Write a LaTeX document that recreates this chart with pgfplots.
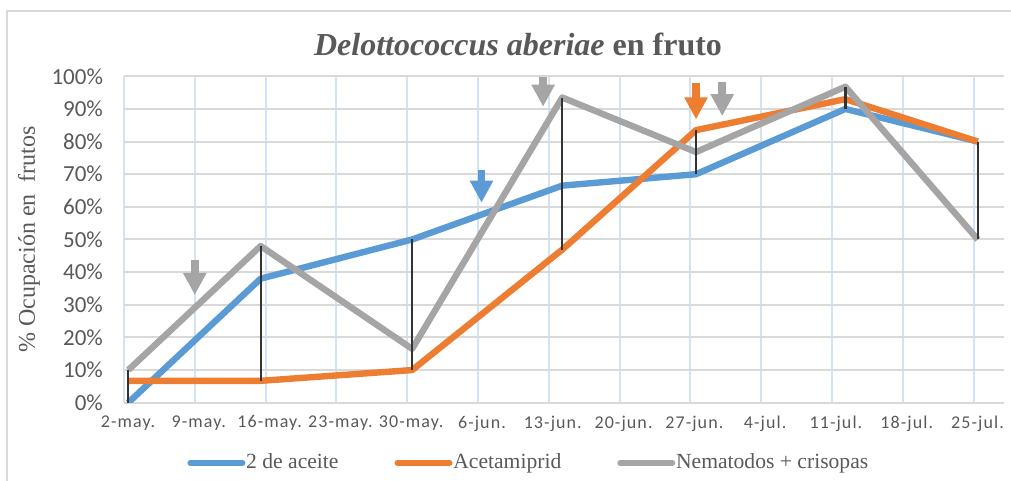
\documentclass[border=0pt]{standalone}
\usepackage{fontspec}
\setmainfont{Liberation Serif}
\newfontfamily\carlito{Carlito}
\newfontfamily\carlitols[LetterSpace=6]{Carlito}
\usepackage{pgfplots}
\pgfplotsset{compat=1.18}
\usetikzlibrary{arrows.meta}
\definecolor{cblue}{HTML}{5B9BD5}
\definecolor{corange}{HTML}{ED7D31}
\definecolor{cgray}{HTML}{A5A5A5}
\definecolor{txt}{HTML}{595959}
\definecolor{gridg}{HTML}{D9D9D9}
\definecolor{gridb}{HTML}{D2E3F3}
\definecolor{drop}{HTML}{333333}
\begin{document}
\begin{tikzpicture}
\useasboundingbox (0,0) rectangle (505.5pt,240.5pt);
\draw[gridg, line width=1pt] (3.5pt,-5pt) -- (3.5pt,235pt) -- (515pt,235pt);
\node[anchor=base, text=txt, font=\fontsize{16}{19}\selectfont\bfseries, inner sep=0pt] at (259pt,212.5pt) {\textit{Delottococcus aberiae} en fruto};
\begin{axis}[
  at={(62pt,39.15pt)}, anchor=south west,
  scale only axis, width=440pt, height=163.2pt,
  xmin=0, xmax=12.43, ymin=0, ymax=100,
  xtick={0,1,2,3,4,5,6,7,8,9,10,11,12},
  xticklabels={2-may.,9-may.,16-may.,23-may.,30-may.,6-jun.,13-jun.,20-jun.,27-jun.,4-jul.,11-jul.,18-jul.,25-jul.},
  ytick={0,10,20,30,40,50,60,70,80,90,100},
  yticklabels={0\%,10\%,20\%,30\%,40\%,50\%,60\%,70\%,80\%,90\%,100\%},
  xmajorgrids, ymajorgrids,
  major x grid style={gridb, line width=1pt},
  major y grid style={gridg, line width=1pt},
  axis line style={draw=none},
  tick style={draw=none},
  x tick label style={font=\carlitols\fontsize{9}{11}\selectfont, text=txt, yshift=-3pt, xshift=2pt},
  y tick label style={font=\carlito\fontsize{11.5}{13}\selectfont, text=txt, xshift=-7pt},
  ylabel={\% Ocupación en\ \ frutos},
  ylabel style={at={(axis description cs:-0.108,0.5)}, anchor=center, font=\fontsize{12}{14}\selectfont, text=txt},
  legend columns=3,
  legend style={draw=none, fill=none, inner sep=0pt, at={(axis description cs:0.0716,-0.1847)}, anchor=west,
    font=\fontsize{10.8}{13}\selectfont, text=txt,
    /tikz/every odd column/.append style={column sep=-1.6pt},
    /tikz/every even column/.append style={column sep=26pt}},
  legend image code/.code={\draw[#1, line width=3pt, line cap=round] (0pt,0pt) -- (26pt,0pt);},
  line join=round,
]
\addplot[cblue, line width=3.2pt] coordinates {(0.06,0) (1.93,38) (4.07,50) (6.19,66.5) (8.08,70) (10.19,90) (12.06,80)};
\addlegendentry{2 de aceite}
\addplot[corange, line width=3.2pt] coordinates {(0.06,6.7) (1.93,6.7) (4.07,10) (6.19,46.9) (8.08,83.5) (10.19,93) (12.06,80)};
\addlegendentry{Acetamiprid}
\addplot[cgray, line width=3.2pt] coordinates {(0.06,10) (1.93,48) (4.07,16.5) (6.19,93.5) (8.08,76.8) (10.19,96.8) (12.06,50)};
\addlegendentry{Nematodos + crisopas}
\addplot[drop, line width=1.1pt, forget plot] coordinates {(0.06,0) (0.06,10)};
\addplot[drop, line width=1.1pt, forget plot] coordinates {(1.93,6.7) (1.93,48)};
\addplot[drop, line width=1.1pt, forget plot] coordinates {(4.07,10) (4.07,50)};
\addplot[drop, line width=1.1pt, forget plot] coordinates {(6.19,46.9) (6.19,93.5)};
\addplot[drop, line width=1.1pt, forget plot] coordinates {(8.08,70) (8.08,83.5)};
\addplot[drop, line width=1.1pt, forget plot] coordinates {(10.19,90) (10.19,96.8)};
\addplot[drop, line width=1.1pt, forget plot] coordinates {(12.06,50) (12.06,80)};
\draw[cgray, line width=3.8pt, -{Triangle[length=11pt,width=11pt]}] (axis cs:1,43.8) -- (axis cs:1,33);
\draw[cblue, line width=3.6pt, -{Triangle[length=11pt,width=11pt]}] (axis cs:5.05,71.4) -- (axis cs:5.05,61.3);
\draw[cgray, line width=3.8pt, -{Triangle[length=11pt,width=11pt]}] (axis cs:5.92,99.8) -- (axis cs:5.92,90.7);
\draw[corange, line width=3.8pt, -{Triangle[length=11pt,width=11pt]}] (axis cs:8.08,98) -- (axis cs:8.08,86.8);
\draw[cgray, line width=3.8pt, -{Triangle[length=11pt,width=11pt]}] (axis cs:8.45,98.3) -- (axis cs:8.45,87.8);
\end{axis}
\end{tikzpicture}
\end{document}
